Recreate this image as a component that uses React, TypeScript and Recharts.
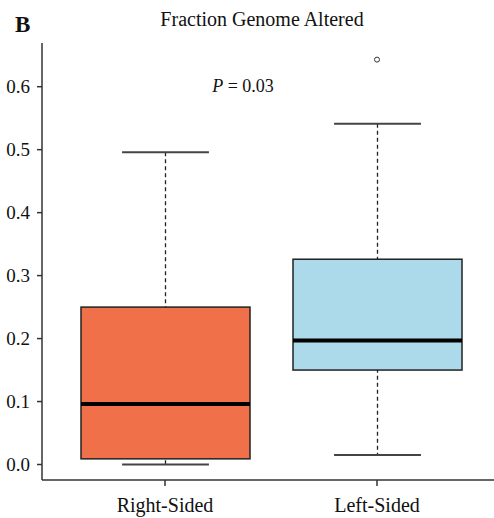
import { ComposedChart, Bar, Scatter, XAxis, YAxis } from 'recharts';

// box plot summary values
const categories = ['Right-Sided', 'Left-Sided'];
const minValues = [0.0, 0.015];
const q1Values = [0.009, 0.15];
const medianValues = [0.096, 0.197];
const q3Values = [0.25, 0.326];
const maxValues = [0.496, 0.541];
const boxColors = ['#F0704A', '#ADDAEA'];

const outlierCategories = ['Left-Sided'];
const outlierValues = [0.643];

const yTicks = [0, 0.1, 0.2, 0.3, 0.4, 0.5, 0.6];

const data = categories.map((name, i) => ({
  name,
  whisker: [minValues[i], maxValues[i]],
  box: [q1Values[i], q3Values[i]],
  q1: q1Values[i],
  median: medianValues[i],
  q3: q3Values[i],
  fill: boxColors[i],
}));

const outliers = outlierCategories.map((name, i) => ({ name, value: outlierValues[i] }));

const serif = 'Liberation Serif, Times New Roman, Times, Tinos, DejaVu Serif, Noto Serif, serif';
const axisColor = '#333';

const WhiskerShape = (props: any) => {
  const { x, y, width, height } = props;
  const cx = x + width / 2;
  const top = Math.min(y, y + height);
  const bottom = Math.max(y, y + height);
  const half = width * 0.257;
  return (
    <g>
      <line x1={cx} x2={cx} y1={top} y2={bottom} stroke="#222" strokeWidth={1.3} strokeDasharray="4 3" />
      <line x1={cx - half} x2={cx + half} y1={top} y2={top} stroke="#444" strokeWidth={2} />
      <line x1={cx - half} x2={cx + half} y1={bottom} y2={bottom} stroke="#444" strokeWidth={2} />
    </g>
  );
};

const BoxShape = (props: any) => {
  const { x, y, width, height, payload } = props;
  const top = Math.min(y, y + height);
  const h = Math.abs(height);
  // median position inside the box, from the box's own scaled edges
  const my = top + (h * (payload.q3 - payload.median)) / (payload.q3 - payload.q1);
  return (
    <g>
      <rect x={x} y={top} width={width} height={h} fill={payload.fill} stroke="#222" strokeWidth={1.5} />
      <line x1={x} x2={x + width} y1={my} y2={my} stroke="#000" strokeWidth={4} />
    </g>
  );
};

const OutlierShape = (props: any) => {
  const { cx, cy } = props;
  return <circle cx={cx} cy={cy} r={2.5} fill="#fff" stroke="#333" strokeWidth={1} />;
};

export default function App() {
  return (
    <div
      style={{
        position: 'absolute',
        left: 0,
        top: 0,
        width: 494,
        height: 518,
        background: '#fff',
        fontFamily: serif,
      }}
    >
      <ComposedChart
        width={494}
        height={518}
        data={data}
        margin={{ top: 43, right: 0, bottom: 0, left: 0 }}
        style={{ fontFamily: serif }}
      >
        <XAxis
          dataKey="name"
          type="category"
          allowDuplicatedCategory={false}
          padding={{ left: 17, right: 11 }}
          height={38}
          tickSize={6}
          tickMargin={12}
          axisLine={{ stroke: axisColor, strokeWidth: 1.5 }}
          tickLine={{ stroke: axisColor, strokeWidth: 1.5 }}
          tick={{ fill: '#111', fontSize: 20, style: { fontFamily: serif } }}
        />
        <XAxis xAxisId="w" dataKey="name" type="category" padding={{ left: 17, right: 11 }} hide />
        <XAxis
          xAxisId="top"
          orientation="top"
          dataKey="name"
          height={0}
          tick={false}
          tickLine={false}
          axisLine={{ stroke: axisColor, strokeWidth: 1.5 }}
        />
        <YAxis
          domain={[-0.0246, 0.6694]}
          ticks={yTicks}
          allowDataOverflow
          width={42}
          tickSize={5}
          tickMargin={7}
          tickFormatter={(v: number) => v.toFixed(1)}
          axisLine={{ stroke: axisColor, strokeWidth: 1.5 }}
          tickLine={{ stroke: axisColor, strokeWidth: 1.5 }}
          tick={{ fill: '#111', fontSize: 19, style: { fontFamily: serif } }}
        />
        <Bar xAxisId="w" dataKey="whisker" barSize={169} shape={WhiskerShape} isAnimationActive={false} />
        <Bar dataKey="box" barSize={169} shape={BoxShape} isAnimationActive={false} />
        <Scatter data={outliers} dataKey="value" shape={OutlierShape} isAnimationActive={false} />
      </ComposedChart>
      <svg
        width={494}
        height={518}
        style={{ position: 'absolute', left: 0, top: 0, pointerEvents: 'none', fontFamily: serif }}
      >
        <text x={15} y={32} fontWeight="bold" fontSize={23} fill="#111">
          B
        </text>
        <text x={262} y={26} textAnchor="middle" fontSize={20} fill="#111">
          Fraction Genome Altered
        </text>
        <text x={243} y={92} textAnchor="middle" fontSize={18} fill="#111">
          <tspan fontStyle="italic">P</tspan> = 0.03
        </text>
      </svg>
    </div>
  );
}
